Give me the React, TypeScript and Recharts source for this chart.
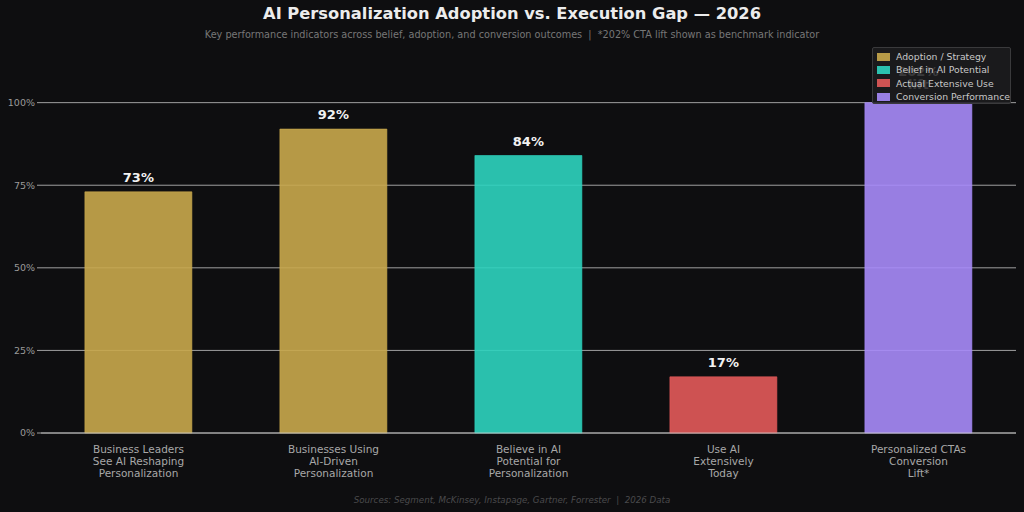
import { BarChart, Bar, XAxis, YAxis, CartesianGrid, Cell, LabelList } from "recharts";

const categories = [
  "Business Leaders\nSee AI Reshaping\nPersonalization",
  "Businesses Using\nAI-Driven\nPersonalization",
  "Believe in AI\nPotential for\nPersonalization",
  "Use AI\nExtensively\nToday",
  "Personalized CTAs\nConversion\nLift*",
];
const values = [73, 92, 84, 17, 202];
const groups = ["adoption", "adoption", "belief", "actual", "conversion"];
const yTicks = [0, 25, 50, 75, 100];

const AXIS_CAP = 100;
const FONT = "'DejaVu Sans', sans-serif";

const groupColors: Record<string, string> = {
  adoption: "#c9a84c",
  belief: "#2dd4bf",
  actual: "#e35a5a",
  conversion: "#a78bfa",
};

const legendItems = [
  { label: "Adoption / Strategy", color: groupColors.adoption },
  { label: "Belief in AI Potential", color: groupColors.belief },
  { label: "Actual Extensive Use", color: groupColors.actual },
  { label: "Conversion Performance", color: groupColors.conversion },
];

// bars above the axis cap are drawn at the cap, the label keeps the real number
const data = categories.map((name, i) => ({
  name,
  value: values[i],
  shown: Math.min(values[i], AXIS_CAP),
  group: groups[i],
}));

const gridColor = "#c4c4c4";

function CategoryTick(props: any) {
  const { x, y, payload } = props;
  const lines = String(payload.value).split("\n");
  return (
    <text x={x} y={y} textAnchor="middle" fill="#a8a8a8" fontSize={10.5} fontFamily={FONT}>
      {lines.map((line, i) => (
        <tspan key={i} x={x} dy={i === 0 ? 11.5 : 12.2}>
          {line}
        </tspan>
      ))}
    </text>
  );
}

function ValueLabel(props: any) {
  const { x, y, width, index } = props;
  const v = values[index];
  const cx = x + width / 2;
  if (v > AXIS_CAP) {
    return (
      <text x={cx} textAnchor="middle" fill="#f2f2f2" fontSize={13} fontWeight="bold" fontFamily={FONT}>
        <tspan x={cx} y={y - 27}>{`${v}%`}</tspan>
        <tspan x={cx} y={y - 14}>lift</tspan>
      </text>
    );
  }
  return (
    <text x={cx} y={y - 10} textAnchor="middle" fill="#f2f2f2" fontSize={13} fontWeight="bold" fontFamily={FONT}>
      {`${v}%`}
    </text>
  );
}

export default function App() {
  return (
    <div
      style={{
        position: "fixed",
        left: 0,
        top: 0,
        width: 1024,
        height: 512,
        background: "#0e0e10",
        fontFamily: FONT,
        overflow: "hidden",
      }}
    >
      <div
        style={{
          position: "absolute",
          top: 4,
          width: "100%",
          textAlign: "center",
          color: "#ececec",
          fontSize: 16.3,
          fontWeight: "bold",
        }}
      >
        AI Personalization Adoption vs. Execution Gap — 2026
      </div>
      <div
        style={{
          position: "absolute",
          top: 29,
          width: "100%",
          textAlign: "center",
          color: "#777",
          fontSize: 9.7,
        }}
      >
        Key performance indicators across belief, adoption, and conversion outcomes&nbsp; | &nbsp;*202% CTA lift shown as benchmark indicator
      </div>

      <BarChart
        width={1024}
        height={512}
        data={data}
        margin={{ top: 63, right: 8, bottom: 19, left: 8 }}
        barCategoryGap="22.5%"
      >
        <CartesianGrid
          vertical={false}
          horizontalValues={yTicks}
          stroke={gridColor}
          strokeOpacity={0.8}
        />
        <XAxis
          dataKey="name"
          height={60}
          interval={0}
          tick={<CategoryTick />}
          tickLine={false}
          axisLine={{ stroke: gridColor, strokeOpacity: 0.8 }}
        />
        <YAxis
          width={33}
          domain={[0, 112]}
          ticks={yTicks}
          tickFormatter={(v: number) => `${v}%`}
          tick={{ fill: "#9a9a9a", fontSize: 9.5, fontFamily: FONT }}
          tickSize={4}
          tickLine={{ stroke: gridColor, strokeOpacity: 0.8 }}
          axisLine={false}
        />
        <Bar dataKey="shown" isAnimationActive={false} fillOpacity={0.9}>
          {data.map((d, i) => (
            <Cell key={i} fill={groupColors[d.group]} stroke={groupColors[d.group]} strokeOpacity={0.6} />
          ))}
          <LabelList dataKey="shown" content={<ValueLabel />} />
        </Bar>
      </BarChart>

      <div
        style={{
          position: "absolute",
          left: 872,
          top: 47,
          width: 139,
          height: 57,
          boxSizing: "border-box",
          background: "rgba(28,28,30,0.86)",
          border: "1px solid #3a3a3c",
          borderRadius: 2,
          padding: "2px 0 0 4px",
        }}
      >
        {legendItems.map((item) => (
          <div key={item.label} style={{ display: "flex", alignItems: "center", height: 13.3 }}>
            <span
              style={{
                width: 13,
                height: 8,
                background: item.color,
                opacity: 0.9,
                marginRight: 6,
                display: "inline-block",
              }}
            />
            <span style={{ color: "#c8c8c8", fontSize: 9.3, whiteSpace: "nowrap" }}>{item.label}</span>
          </div>
        ))}
      </div>

      <div
        style={{
          position: "absolute",
          top: 495,
          width: "100%",
          textAlign: "center",
          color: "#4a4a4c",
          fontSize: 8.7,
          fontStyle: "italic",
        }}
      >
        Sources: Segment, McKinsey, Instapage, Gartner, Forrester&nbsp; | &nbsp;2026 Data
      </div>
    </div>
  );
}
